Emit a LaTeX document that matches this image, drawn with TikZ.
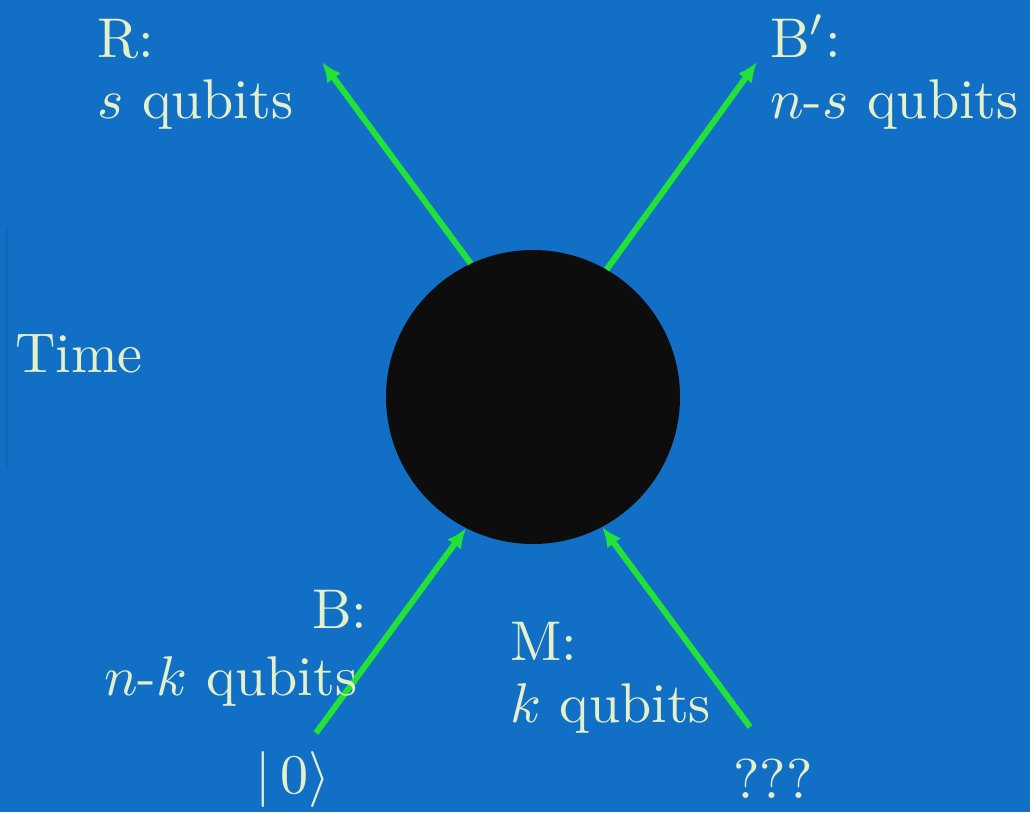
\documentclass[tikz,border=0pt]{standalone}
\usepackage{graphicx}
\usetikzlibrary{arrows.meta}
\definecolor{bgblue}{RGB}{17,112,198}
\definecolor{txt}{RGB}{228,240,200}
\definecolor{arrgreen}{RGB}{34,226,56}
\definecolor{faintline}{RGB}{15,104,186}
\newcommand{\bigtxt}[1]{\scalebox{5.6}{#1}}
\begin{document}
\begin{tikzpicture}[x=1pt,y=-1pt,
  lbl/.style={text=txt,inner sep=0pt,anchor=base west,font=\normalsize},
  flow/.style={draw=arrgreen,line width=6pt,-{Latex[length=20pt,width=17pt]}}]
\fill[bgblue] (0,0) rectangle (1030,812);
\useasboundingbox (0,0) rectangle (1030,812);
% faint time axis at left edge
\coordinate (t0) at (6,226);
\coordinate (t1) at (6,470);
\draw[faintline,line width=3pt] (t0) -- (t1);
% black hole
\node[circle,fill=black!95,minimum size=294pt,inner sep=0pt] (bh) at (533,397) {};
% endpoints
\coordinate (rtip) at (322,62);
\coordinate (bptip) at (757,62);
\coordinate (bstart) at (316,733);
\coordinate (mstart) at (750,727);
\draw[flow] (bh.115.5) -- (rtip);
\draw[flow] (bh.60.8) -- (bptip);
\draw[flow] (bstart) -- (bh.243.1);
\draw[flow] (mstart) -- (bh.298.6);
% labels
\node[lbl] (r1) at (97,57) {\bigtxt{R:}};
\node[lbl] (r2) at (97,118) {\bigtxt{$s$ qubits}};
\node[lbl] (bp1) at (770,57) {\bigtxt{B$'$:}};
\node[lbl] (bp2) at (770,118) {\bigtxt{$n$-$s$ qubits}};
\node[lbl] (time) at (15,372) {\bigtxt{Time}};
\node[lbl] (b1) at (312,628) {\bigtxt{B:}};
\node[lbl] (b2) at (104,695) {\bigtxt{$n$-$k$ qubits}};
\node[lbl] (m1) at (510,660) {\bigtxt{M:}};
\node[lbl] (m2) at (510,722) {\bigtxt{$k$ qubits}};
\node[lbl] (ket) at (255,793) {\bigtxt{$|\,0\rangle$}};
\node[lbl] (qqq) at (733,798) {\bigtxt{???}};
\end{tikzpicture}
\end{document}
